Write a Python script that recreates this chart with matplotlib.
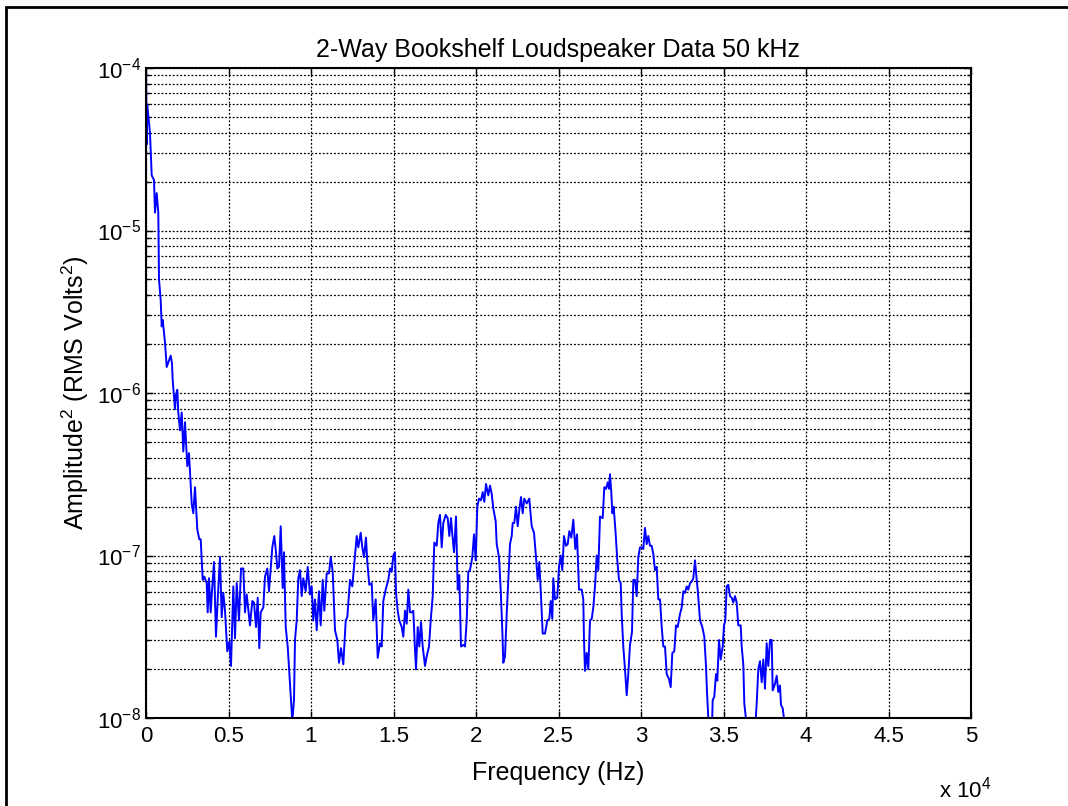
import matplotlib
matplotlib.use('Agg')
import matplotlib.pyplot as plt
import numpy as np
from matplotlib.patches import Rectangle
from matplotlib.ticker import LogLocator, NullFormatter, FixedLocator

plt.rcParams['font.family'] = ['Liberation Sans', 'DejaVu Sans']
plt.rcParams['mathtext.default'] = 'regular'

title = '2-Way Bookshelf Loudspeaker Data 50 kHz'

# frequency in Hz, amplitude read as log10 of RMS Volts^2
freq_hz = [
    0, 42, 79, 242, 345, 485, 545, 648, 745, 788, 891, 952, 1012, 1152, 1255,
    1497, 1576, 1618, 1758, 1818, 1897, 1958, 2061, 2164, 2261, 2364, 2503, 2606,
    2770, 2867, 2970, 3109, 3230, 3315, 3436, 3533, 3679, 3739, 3818, 3921, 4018,
    4121, 4242, 4345, 4485, 4588, 4685, 4788, 4927, 5048, 5152, 5291, 5394, 5497,
    5636, 5758, 5897, 6000, 6103, 6303, 6442, 6545, 6667, 6770, 6867, 6952, 7109,
    7212, 7352, 7455, 7558, 7655, 7776, 7879, 7958, 8061, 8164, 8285, 8364, 8467,
    8588, 8727, 8867, 8970, 9030, 9133, 9230, 9333, 9436, 9533, 9679, 9800, 9939,
    10042, 10139, 10242, 10345, 10485, 10588, 10709, 10806, 10952, 11091, 11194,
    11315, 11455, 11594, 11697, 11818, 11958, 12103, 12200, 12364, 12503, 12667,
    12770, 12867, 13012, 13109, 13212, 13333, 13412, 13533, 13679, 13776, 13921,
    14042, 14182, 14285, 14382, 14527, 14685, 14788, 14891, 14988, 15091, 15152,
    15255, 15352, 15497, 15594, 15697, 15800, 15897, 16000, 16103, 16200, 16303,
    16364, 16467, 16564, 16667, 16770, 16909, 17012, 17152, 17255, 17376, 17473,
    17618, 17715, 17818, 17921, 18018, 18164, 18285, 18382, 18485, 18564, 18667,
    18788, 18891, 18988, 19091, 19230, 19333, 19436, 19533, 19636, 19776, 19879,
    19982, 20079, 20182, 20303, 20406, 20503, 20606, 20745, 20848, 20952, 21048,
    21194, 21255, 21394, 21497, 21594, 21655, 21758, 21861, 21958, 22061, 22164,
    22224, 22321, 22424, 22527, 22624, 22727, 22830, 22927, 23073, 23230, 23376,
    23515, 23636, 23739, 23836, 23939, 24042, 24182, 24321, 24442, 24527, 24624,
    24685, 24788, 24927, 25030, 25133, 25230, 25333, 25455, 25558, 25655, 25776,
    25897, 26018, 26121, 26242, 26406, 26503, 26545, 26606, 26709, 26806, 26909,
    27012, 27109, 27212, 27315, 27412, 27515, 27679, 27776, 27879, 27982, 28061,
    28121, 28200, 28261, 28345, 28467, 28564, 28667, 28770, 28830, 28927, 29030,
    29133, 29230, 29333, 29455, 29533, 29636, 29739, 29836, 29939, 30042, 30139,
    30242, 30345, 30442, 30545, 30648, 30745, 30848, 30952, 31048, 31152, 31255,
    31352, 31455, 31558, 31697, 31800, 31897, 32018, 32121, 32224, 32364, 32467,
    32564, 32667, 32770, 32867, 32970, 33073, 33170, 33273, 33376, 33436, 33576,
    33715, 33836, 33939, 34000, 34103, 34200, 34303, 34345, 34442, 34545, 34624,
    34727, 34830, 34952, 35030, 35109, 35194, 35291, 35394, 35497, 35594, 35697,
    35800, 35897, 36042, 36103, 36200, 36261, 36406, 36606, 36927, 37012, 37109,
    37212, 37315, 37412, 37515, 37618, 37715, 37818, 37921, 37982, 38121, 38224,
    38321, 38424, 38485, 38588, 38685,
]

amp_log10 = [
    -3.95, -4.47, -4.23, -4.40, -4.66, -4.69, -4.89, -4.77, -4.89, -5.30, -5.43,
    -5.59, -5.55, -5.69, -5.84, -5.77, -5.82, -5.92, -6.10, -6.01, -5.98, -6.12,
    -6.23, -6.12, -6.36, -6.18, -6.45, -6.37, -6.68, -6.74, -6.58, -6.84, -6.90,
    -6.90, -7.15, -7.13, -7.17, -7.35, -7.14, -7.35, -7.19, -7.04, -7.50, -7.27,
    -7.01, -7.38, -7.23, -7.34, -7.59, -7.53, -7.68, -7.19, -7.51, -7.17, -7.40,
    -7.08, -7.08, -7.35, -7.24, -7.43, -7.28, -7.29, -7.44, -7.26, -7.57, -7.35,
    -7.32, -7.13, -7.08, -7.22, -7.08, -6.95, -6.88, -6.98, -7.08, -7.07, -6.82,
    -7.20, -6.98, -7.44, -7.56, -7.79, -8.02, -7.89, -7.52, -7.40, -7.14, -7.09,
    -7.25, -7.14, -7.22, -7.07, -7.24, -7.19, -7.40, -7.27, -7.46, -7.22, -7.43,
    -7.15, -7.34, -7.11, -7.11, -7.01, -7.10, -7.46, -7.52, -7.66, -7.57, -7.67,
    -7.40, -7.38, -7.15, -7.19, -7.00, -6.88, -6.95, -6.86, -6.95, -7.01, -6.89,
    -7.04, -7.18, -7.17, -7.40, -7.27, -7.63, -7.54, -7.56, -7.28, -7.21, -7.15,
    -7.08, -7.10, -7.00, -6.98, -7.23, -7.34, -7.40, -7.44, -7.50, -7.34, -7.42,
    -7.21, -7.35, -7.35, -7.34, -7.58, -7.70, -7.44, -7.56, -7.41, -7.56, -7.68,
    -7.62, -7.56, -7.40, -7.25, -6.92, -6.94, -6.80, -6.75, -6.95, -6.80, -6.75,
    -6.77, -6.88, -6.77, -6.87, -6.98, -6.76, -7.21, -7.12, -7.56, -7.55, -7.56,
    -7.40, -7.10, -7.09, -7.01, -6.87, -7.03, -6.70, -6.65, -6.66, -6.61, -6.67,
    -6.56, -6.63, -6.57, -6.62, -6.71, -6.79, -6.93, -7.01, -7.21, -7.46, -7.66,
    -7.62, -7.36, -7.15, -6.93, -6.88, -6.80, -6.80, -6.70, -6.82, -6.72, -6.64,
    -6.74, -6.65, -6.68, -6.65, -6.82, -6.86, -7.01, -7.15, -7.04, -7.25, -7.48,
    -7.48, -7.40, -7.39, -7.28, -7.39, -7.14, -7.27, -7.26, -7.07, -7.00, -7.09,
    -6.88, -6.94, -6.93, -6.85, -6.89, -6.78, -6.96, -6.87, -7.21, -7.21, -7.27,
    -7.52, -7.71, -7.60, -7.70, -7.40, -7.39, -7.32, -7.19, -7.00, -7.09, -6.76,
    -6.77, -6.58, -6.59, -6.55, -6.59, -6.50, -6.61, -6.74, -6.70, -6.87, -7.03,
    -7.15, -7.17, -7.36, -7.56, -7.70, -7.86, -7.73, -7.55, -7.47, -7.15, -7.15,
    -7.25, -7.01, -6.95, -6.95, -6.96, -6.83, -6.93, -6.88, -6.94, -6.94, -6.99,
    -7.09, -7.07, -7.27, -7.27, -7.44, -7.56, -7.56, -7.73, -7.76, -7.81, -7.60,
    -7.59, -7.43, -7.44, -7.36, -7.32, -7.22, -7.23, -7.19, -7.21, -7.17, -7.16,
    -7.14, -7.03, -7.15, -7.21, -7.40, -7.44, -7.50, -7.68, -7.84, -8.05, -8.30,
    -8.05, -7.89, -7.87, -7.73, -7.77, -7.52, -7.64, -7.56, -7.43, -7.40, -7.19,
    -7.18, -7.25, -7.26, -7.29, -7.25, -7.29, -7.43, -7.43, -7.56, -7.67, -7.91,
    -8.05, -8.40, -8.05, -7.91, -7.70, -7.65, -7.78, -7.64, -7.82, -7.54, -7.68,
    -7.52, -7.52, -7.83, -7.79, -7.74, -7.84, -7.80, -7.92, -7.94, -8.02,
]

xtick_vals = [0, 5000, 10000, 15000, 20000, 25000, 30000, 35000, 40000, 45000, 50000]
xtick_labels = ['0', '0.5', '1', '1.5', '2', '2.5', '3', '3.5', '4', '4.5', '5']

amplitude = 10.0 ** np.array(amp_log10)

fig = plt.figure(figsize=(10.68, 8.06), dpi=100)
ax = fig.add_axes([146 / 1068, 1 - 718 / 806, 825 / 1068, 650 / 806])

ax.semilogy(freq_hz, amplitude, color='#0000ff', linewidth=1.4)
ax.set_xlim(0, 50000)
ax.set_ylim(1e-8, 1e-4)

ax.xaxis.set_major_locator(FixedLocator(xtick_vals))
ax.set_xticklabels(xtick_labels)
ax.yaxis.set_major_locator(LogLocator(base=10, numticks=10))
ax.yaxis.set_minor_locator(LogLocator(base=10, subs=np.arange(2, 10), numticks=10))
ax.yaxis.set_minor_formatter(NullFormatter())

ax.grid(True, which='major', axis='both', color='black', linestyle=(0, (1.5, 1.5)), linewidth=0.9)
ax.grid(True, which='minor', axis='y', color='black', linestyle=(0, (1.5, 1.5)), linewidth=0.9)
ax.tick_params(which='both', direction='in', top=True, right=True, labelsize=16, width=1.0)
ax.tick_params(which='major', length=5)
ax.tick_params(which='minor', length=3)
ax.tick_params(axis='x', pad=6)
for sp in ax.spines.values():
    sp.set_linewidth(1.5)

ax.set_title(title, fontsize=18, pad=8)
ax.set_xlabel('Frequency (Hz)', fontsize=18, labelpad=10)
ax.set_ylabel('Amplitude$^2$ (RMS Volts$^2$)', fontsize=18, labelpad=4)
fig.text(965 / 1068, 1 - 790 / 806, 'x 10$^4$', fontsize=16, ha='center', va='center')

fig.patches.append(Rectangle((6 / 1068, -0.5), 2, 1.5 - 7 / 806, transform=fig.transFigure,
                             fill=False, edgecolor='black', linewidth=2))

fig.savefig('out.png', dpi=100)
